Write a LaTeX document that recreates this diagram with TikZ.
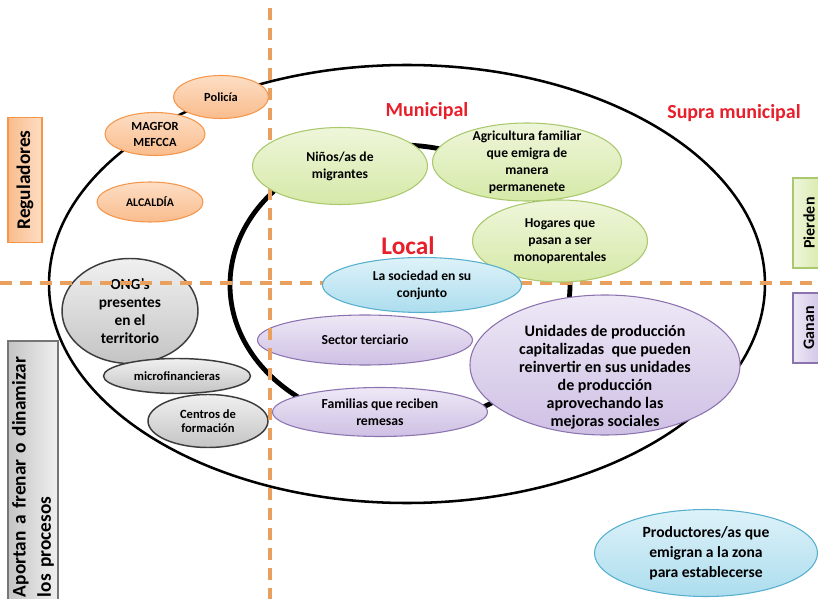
\documentclass[tikz,border=0pt]{standalone}
\usepackage{fontspec}
\setmainfont{Carlito}
\usetikzlibrary{shapes.geometric}
\definecolor{naranja}{RGB}{245,150,75}
\definecolor{naranjaclaro}{RGB}{253,222,196}
\definecolor{naranjamedio}{RGB}{249,188,140}
\definecolor{verde}{RGB}{170,200,110}
\definecolor{verdeclaro}{RGB}{238,246,218}
\definecolor{verdemedio}{RGB}{214,233,168}
\definecolor{azul}{RGB}{85,175,205}
\definecolor{azulclaro}{RGB}{222,242,249}
\definecolor{azulmedio}{RGB}{172,221,238}
\definecolor{morado}{RGB}{140,115,175}
\definecolor{moradoclaro}{RGB}{238,232,246}
\definecolor{moradomedio}{RGB}{206,192,228}
\definecolor{gris}{RGB}{60,60,60}
\definecolor{grisclaro}{RGB}{240,240,240}
\definecolor{grismedio}{RGB}{196,196,196}
\definecolor{rojo}{RGB}{232,30,42}
\definecolor{linea}{RGB}{233,160,95}
\tikzset{
  {ejes/.style 2 args} ={minimum width=#1*0.75pt, minimum height=#2*0.75pt},
  {actor/.style} ={ellipse, draw, line width=0.8pt, align=center,
                   inner sep=-6pt, font=\bfseries\fontsize{10.2}{12.75}\selectfont},
  {regulador/.style} ={actor, draw=naranja, top color=naranjaclaro,
                   bottom color=naranjamedio, font=\bfseries\fontsize{9.3}{12}\selectfont},
  {pierde/.style} ={actor, draw=verde, top color=verdeclaro, bottom color=verdemedio},
  {neutro/.style} ={actor, draw=azul, top color=azulclaro, bottom color=azulmedio},
  {gana/.style} ={actor, draw=morado, top color=moradoclaro, bottom color=moradomedio,
                   font=\bfseries\fontsize{10.3}{13}\selectfont},
  {aporta/.style} ={actor, draw=gris, line width=1.1pt, top color=grisclaro,
                   bottom color=grismedio, font=\bfseries\fontsize{9.4}{10.5}\selectfont},
  {escala/.style} ={text=rojo, font=\bfseries\fontsize{15}{17}\selectfont},
  {eje/.style} ={linea, line width=2.8pt, dash pattern=on 9pt off 6pt},
  {rotulo/.style} ={rectangle, line width=1pt, rotate=90, inner sep=0pt,
                   font=\bfseries\fontsize{12}{15}\selectfont},
}
\begin{document}
\begin{tikzpicture}[x=0.75pt,y=-0.75pt]
\useasboundingbox (0,0) rectangle (818,599);
\clip (0,0) rectangle (818,599);
\draw[line width=1.9pt] (407,284) ellipse [x radius=358, y radius=219];
\draw[line width=3.6pt] (400,285) ellipse [x radius=170, y radius=140];

\node[rotulo, draw=naranja, left color=naranjamedio, right color=naranjaclaro,
      ejes={125}{34}, font=\bfseries\fontsize{14.5}{16}\selectfont]
      (reguladores) at (25,180) {Reguladores};
\node[rotulo, draw=gris!70, left color=grismedio, right color=grisclaro,
      ejes={262}{50}, inner xsep=6pt, text width=186pt, align=left,
      font=\bfseries\fontsize{14.5}{19}\selectfont] (aportan) at (33,473)
      {Aportan a frenar o dinamizar\\los procesos};
\node[rotulo, draw=verde, left color=verdeclaro, right color=verdemedio,
      ejes={90}{32}] (pierden) at (809,223) {Pierden};
\node[rotulo, draw=morado, left color=moradoclaro, right color=moradomedio,
      ejes={70}{32}] (ganan) at (809,328) {Ganan};

\node[regulador, ejes={95}{43}] (policia) at (221,97) {Policía};
\node[regulador, ejes={100}{43}] (magfor) at (155,134) {MAGFOR\\MEFCCA};
\node[regulador, ejes={106}{40}, font=\bfseries\fontsize{8.8}{11}\selectfont]
      (alcaldia) at (150,202) {ALCALDÍA};
\node[aporta, ejes={136}{105}, font=\bfseries\fontsize{11.5}{13.5}\selectfont]
      (ong) at (130,311) {ONG's\\presentes\\en el\\territorio};
\node[aporta, ejes={147}{35}] (micro) at (177,376) {microfinancieras};
\node[aporta, ejes={120}{53}] (centros) at (208,421) {Centros de\\formación};
\node[gana, ejes={215}{50}] (terciario) at (365,340) {Sector terciario};
\node[gana, ejes={215}{49}] (familias) at (380,412) {Familias que reciben\\remesas};
\node[gana, ejes={270}{140}, label={[align=center, yshift=-9pt,
      font=\bfseries\fontsize{12}{13.5}\selectfont]center:{Unidades de producción\\
      capitalizadas\ \ que pueden\\reinvertir en sus unidades\\de producción\\
      aprovechando las\\mejoras sociales}}] (unidades) at (605,365) {};

\coordinate (arriba) at (270,8);
\coordinate (abajo) at (270,599);
\coordinate (izquierda) at (0,283);
\coordinate (derecha) at (818,283);
\draw[eje] (arriba) -- (abajo);
\draw[eje] (izquierda) -- (derecha);

\node[pierde, ejes={175}{77}] (ninos) at (340,166) {Niños/as de\\migrantes};
\node[pierde, ejes={189}{78}] (agricultura) at (527,162)
      {Agricultura familiar\\que emigra de\\manera\\permanenete};
\node[pierde, ejes={175}{82}] (hogares) at (560,241)
      {Hogares que\\pasan a ser\\monoparentales};
\node[neutro, ejes={199}{55}] (sociedad) at (422,285) {La sociedad en su\\conjunto};
\node[neutro, ejes={223}{87}, font=\bfseries\fontsize{11.7}{15}\selectfont]
      (productores) at (706,553) {Productores/as que\\emigran a la zona\\para establecerse};

\node[escala] (municipal) at (427,111) {Municipal};
\node[escala] (supra) at (734,113) {Supra municipal};
\node[escala, font=\bfseries\fontsize{19}{21}\selectfont] (local) at (408,246) {Local};
\end{tikzpicture}
\end{document}
